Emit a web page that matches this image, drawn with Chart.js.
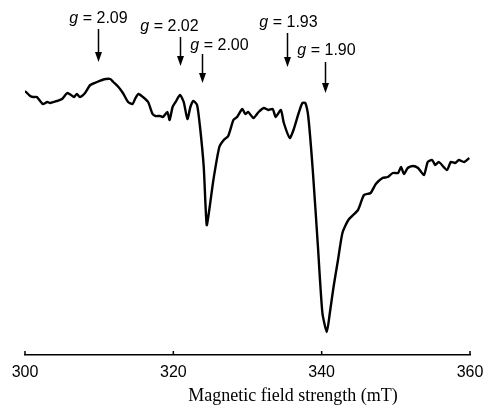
<!DOCTYPE html>
<html>
<head>
<meta charset="utf-8">
<script src="https://cdn.jsdelivr.net/npm/chart.js@4"></script>
<style>
  body { margin: 0; background: #fff; }
  canvas { display: block; }
</style>
</head>
<body>
<canvas id="epr" width="486" height="407"></canvas>
<script>
// EPR spectrum (field in mT, signal in arbitrary units)
let field = [300.0, 300.7, 301.1, 301.6, 302.4, 303.0, 303.4, 304.3, 305.0, 305.7, 306.2, 306.6, 307.0, 307.4,
  308.1, 308.8, 309.7, 310.4, 310.9, 311.5, 311.9, 312.6, 313.2, 313.9, 314.5, 314.9, 315.3, 315.9, 316.6,
  317.2, 317.6, 318.2, 318.6, 319.2, 319.5, 319.9, 320.3, 320.9, 321.4, 321.9, 322.3, 322.7, 323.2, 323.6,
  324.1, 324.5, 324.9, 325.4, 326.2, 326.8, 327.4, 328.1, 328.6, 329.3, 329.7, 330.1, 330.8, 331.5, 332.2,
  332.8, 333.4, 333.8, 334.5, 334.9, 335.7, 336.2, 336.9, 337.4, 337.8, 338.2, 338.8, 339.5, 340.1, 340.7,
  341.1, 341.6, 342.2, 342.8, 343.6, 344.9, 345.7, 346.6, 347.3, 348.2, 348.9, 349.6, 350.3, 350.7, 351.1,
  351.6, 352.3, 353.0, 353.8, 354.3, 354.9, 355.3, 355.8, 356.9, 357.4, 358.0, 358.5, 359.2, 359.9];
let signal = [264, 259, 258, 258, 251, 253, 252, 254, 256, 262, 260, 258, 261, 258,
  262, 270, 273, 275, 276, 276, 273, 268, 262, 253, 251, 257, 261, 258, 253,
  241, 239, 239, 238, 243, 235, 248, 253, 260, 253, 236, 248, 254, 250, 228,
  188, 130, 148, 175, 208, 215, 219, 235, 238, 246, 241, 243, 237, 243, 247,
  245, 246, 238, 245, 232, 217, 225, 242, 252, 252, 238, 185, 108, 42, 23,
  42, 68, 95, 122, 135, 145, 160, 162, 171, 177, 178, 182, 182, 188, 181,
  187, 189, 187, 180, 193, 195, 190, 193, 185, 193, 192, 195, 193, 197];

let xTicks = [300, 320, 340, 360];
let gValues = ['2.09', '2.02', '2.00', '1.93', '1.90'];
let gField = [309.9, 320.9, 323.9, 335.3, 340.5];

// arrow placement in pixels: [arrow top, arrow tip, label centre y, label dx]
let gLayout = [[29, 62, 19, 0], [37, 66, 27, -11], [54, 83, 46, 17], [33, 67, 23, 1], [62, 93, 51, 1]];

let points = field.map((f, i) => ({x: f, y: signal[i]}));

let markers = {
  id: 'markers',
  afterDraw(chart) {
    let ctx = chart.ctx;
    let xs = chart.scales.x;
    let bottom = chart.chartArea.bottom;
    ctx.save();
    ctx.strokeStyle = '#000';
    ctx.fillStyle = '#000';
    ctx.lineWidth = 1.5;
    // inward tick marks
    xTicks.forEach(t => {
      let px = xs.getPixelForValue(t);
      ctx.beginPath();
      ctx.moveTo(px, bottom);
      ctx.lineTo(px, bottom - 4);
      ctx.stroke();
    });
    // g-value arrows
    gField.forEach((f, i) => {
      let px = Math.round(xs.getPixelForValue(f)) + 0.5;
      let [top, tip, ly, dx] = gLayout[i];
      ctx.beginPath();
      ctx.moveTo(px, top);
      ctx.lineTo(px, tip - 8);
      ctx.stroke();
      ctx.beginPath();
      ctx.moveTo(px - 3.5, tip - 10);
      ctx.lineTo(px + 3.5, tip - 10);
      ctx.lineTo(px, tip);
      ctx.closePath();
      ctx.fill();
      ctx.textBaseline = 'middle';
      ctx.font = 'italic 16px "Liberation Sans"';
      let gW = ctx.measureText('g').width;
      let rest = ' = ' + gValues[i];
      ctx.font = '16px "Liberation Sans"';
      let rW = ctx.measureText(rest).width;
      let x0 = px + dx - (gW + rW) / 2;
      ctx.font = 'italic 16px "Liberation Sans"';
      ctx.fillText('g', x0, ly);
      ctx.font = '16px "Liberation Sans"';
      ctx.fillText(rest, x0 + gW, ly);
    });
    // axis title
    ctx.font = '18px "Liberation Serif"';
    ctx.textAlign = 'center';
    ctx.textBaseline = 'middle';
    ctx.fillText('Magnetic field strength (mT)', 293, 396);
    ctx.restore();
  }
};

new Chart(document.getElementById('epr'), {
  type: 'line',
  data: {
    datasets: [{
      data: points,
      borderColor: '#000',
      borderWidth: 2.4,
      pointRadius: 0,
      tension: 0.2,
      fill: false
    }]
  },
  options: {
    responsive: false,
    animation: false,
    layout: {padding: {top: 10, left: 25, right: 16, bottom: 0}},
    plugins: {legend: {display: false}, tooltip: {enabled: false}},
    scales: {
      x: {
        type: 'linear',
        min: 300,
        max: 360,
        afterBuildTicks: s => { s.ticks = xTicks.map(v => ({value: v})); },
        afterFit: s => { s.height = 52; s.paddingLeft = 0; s.paddingRight = 0; },
        grid: {display: true, drawOnChartArea: false, drawTicks: false},
        border: {display: true, color: '#000', width: 1.5},
        ticks: {color: '#000', padding: 8, maxRotation: 0, font: {family: 'Liberation Sans', size: 16}}
      },
      y: {display: false, min: 0, max: 345}
    }
  },
  plugins: [markers]
});
</script>
</body>
</html>
